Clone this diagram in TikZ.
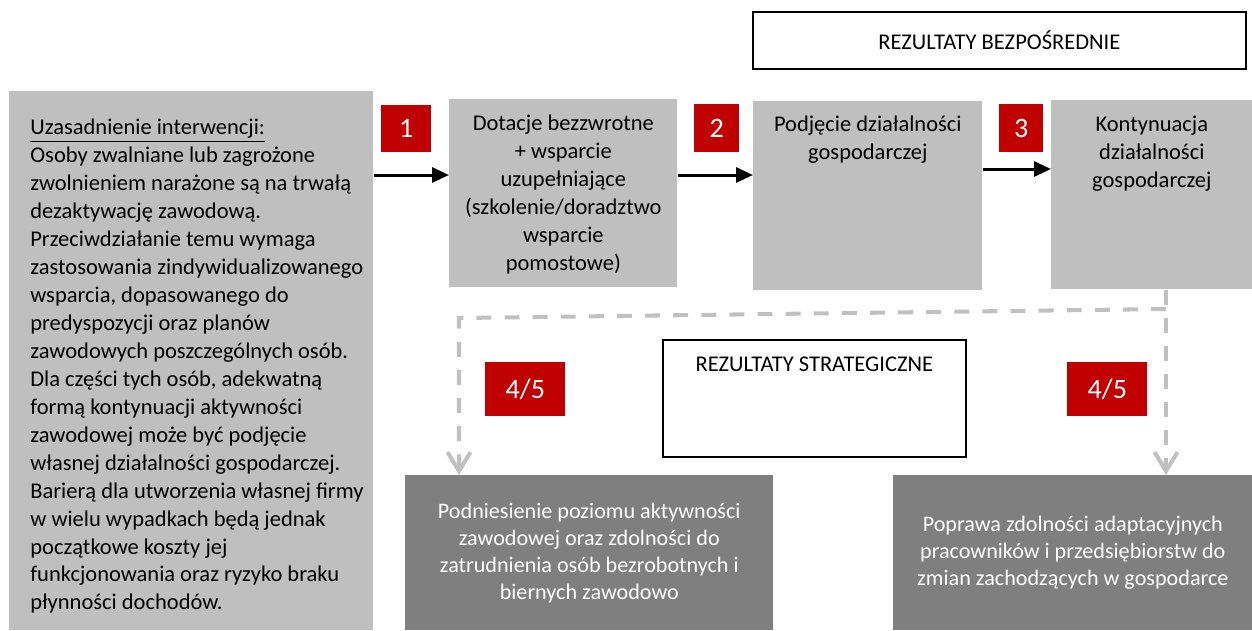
\documentclass[tikz,border=0pt]{standalone}
\usepackage{fontspec}
\setmainfont{Carlito}
\usetikzlibrary{positioning,arrows.meta}
\tikzset{font=\fontsize{12.8}{15.9}\selectfont}
\definecolor{boxgray}{HTML}{BFBFBF}
\definecolor{resultgray}{HTML}{7F7F7F}
\definecolor{numred}{HTML}{C00000}
\definecolor{dashgray}{HTML}{C0C0C0}

\begin{document}
\begin{tikzpicture}[x=0.02cm,y=-0.02cm,every node/.style={inner sep=0pt},
    box/.style={anchor=north west,fill=boxgray},
    result/.style={anchor=north west,fill=resultgray,text=white,align=center,font=\fontsize{12.6}{15.3}\selectfont},
    num/.style={anchor=north west,fill=numred,text=white,font=\fontsize{16}{19}\selectfont},
    title/.style={anchor=north west,draw,line width=1pt},
    flow/.style={line width=1.7pt,-{Triangle[length=0.34cm,width=0.3cm]}},
    link/.style={dashgray,line width=2.3pt,dash pattern=on 8.5pt off 7.5pt,-{Straight Barb[length=0.38cm,width=0.46cm]}}]
    \useasboundingbox (0,0) rectangle (1252,630);

    \node[box,minimum width=7.28cm,minimum height=10.78cm] (uzas) at (9,91) {};
    \node[box,minimum width=4.56cm,minimum height=3.76cm] (dot) at (449,99) {};
    \node[box,minimum width=4.58cm,minimum height=3.78cm] (podj) at (753,101) {};
    \node[box,minimum width=4.02cm,minimum height=3.78cm] (kont) at (1051,100) {};

    \node[below right=0.56cm and 0.42cm of uzas.north west,align=left] {\underline{Uzasadnienie interwencji:}\\
      Osoby zwalniane lub zagrożone\\zwolnieniem narażone są na trwałą\\dezaktywację zawodową.\\
      Przeciwdziałanie temu wymaga\\zastosowania zindywidualizowanego\\wsparcia, dopasowanego do\\
      predyspozycji oraz planów\\zawodowych poszczególnych osób.\\Dla części tych osób, adekwatną\\
      formą kontynuacji aktywności\\zawodowej może być podjęcie\\własnej działalności gospodarczej.\\
      Barierą dla utworzenia własnej firmy\\w wielu wypadkach będą jednak\\początkowe koszty jej\\
      funkcjonowania oraz ryzyko braku\\płynności dochodów.};
    \node[below=0.32cm of dot.north,align=center] {Dotacje bezzwrotne\\+ wsparcie\\uzupełniające\\(szkolenie/doradztwo\\wsparcie\\pomostowe)};
    \node[below=0.3cm of podj.north,align=center] {Podjęcie działalności\\gospodarczej};
    \node[below=0.32cm of kont.north,align=center] {Kontynuacja\\działalności\\gospodarczej};

    \node[num,minimum width=1cm,minimum height=0.94cm] (n1) at (381,105) {1};
    \node[num,minimum width=0.9cm,minimum height=0.96cm] (n2) at (694,104) {2};
    \node[num,minimum width=0.88cm,minimum height=0.96cm] (n3) at (999,104) {3};
    \node[num,minimum width=1.6cm,minimum height=1.08cm] (n4) at (485,362) {4/5};
    \node[num,minimum width=1.6cm,minimum height=1.08cm] (n5) at (1067,362) {4/5};

    \node[title,minimum width=9.86cm,minimum height=1.14cm] (rb) at (752,11) {REZULTATY BEZPOŚREDNIE};
    \node[title,minimum width=6.06cm,minimum height=2.34cm] (rs) at (662,339) {};
    \node[below=0.36cm of rs.north] {REZULTATY STRATEGICZNE};

    \node[result,minimum width=7.36cm,minimum height=3.1cm] (res1) at (405,475) {Podniesienie poziomu aktywności\\zawodowej oraz zdolności do\\zatrudnienia osób bezrobotnych i\\biernych zawodowo};
    \node[result,minimum width=7.18cm,minimum height=3.1cm] (res2) at (893,475) {Poprawa zdolności adaptacyjnych\\pracowników i przedsiębiorstw do\\zmian zachodzących w gospodarce};

    \coordinate (lvl) at (0,175);
    \coordinate (lvlk) at (0,169);
    \draw[flow] (uzas.east |- lvl) -- (dot.west |- lvl);
    \draw[flow] (dot.east |- lvl) -- (podj.west |- lvl);
    \draw[flow] (podj.east |- lvlk) -- (kont.west |- lvlk);

    \coordinate (split) at (1166,309);
    \coordinate (bend) at (459,318);
    \draw[link] (kont.south -| split) -- (res2.north -| split);
    \draw[link] (split) -- (bend) -- (res1.north -| bend);
  \end{tikzpicture}
\end{document}
